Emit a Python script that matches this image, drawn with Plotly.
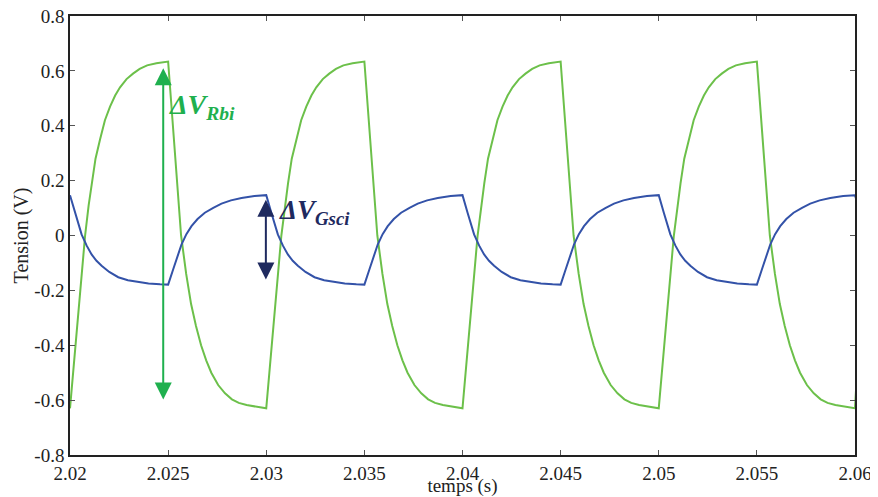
import plotly.graph_objects as go

# ---- data ----
green_t = [
    2.02000, 2.02077, 2.02095, 2.02111, 2.02130, 2.02153, 2.02178, 2.02204, 2.02230, 2.02255, 2.02288, 2.02321, 2.02355, 2.02393, 2.02440,
    2.02500, 2.02566, 2.02592, 2.02617, 2.02642, 2.02668, 2.02694, 2.02720, 2.02755, 2.02790, 2.02825, 2.02860, 2.02900, 2.02950,
    2.03000, 2.03077, 2.03095, 2.03111, 2.03130, 2.03153, 2.03178, 2.03204, 2.03230, 2.03255, 2.03288, 2.03321, 2.03355, 2.03393, 2.03440,
    2.03500, 2.03566, 2.03592, 2.03617, 2.03642, 2.03668, 2.03694, 2.03720, 2.03755, 2.03790, 2.03825, 2.03860, 2.03900, 2.03950,
    2.04000, 2.04077, 2.04095, 2.04111, 2.04130, 2.04153, 2.04178, 2.04204, 2.04230, 2.04255, 2.04288, 2.04321, 2.04355, 2.04393, 2.04440,
    2.04500, 2.04566, 2.04592, 2.04617, 2.04642, 2.04668, 2.04694, 2.04720, 2.04755, 2.04790, 2.04825, 2.04860, 2.04900, 2.04950,
    2.05000, 2.05077, 2.05095, 2.05111, 2.05130, 2.05153, 2.05178, 2.05204, 2.05230, 2.05255, 2.05288, 2.05321, 2.05355, 2.05393, 2.05440,
    2.05500, 2.05566, 2.05592, 2.05617, 2.05642, 2.05668, 2.05694, 2.05720, 2.05755, 2.05790, 2.05825, 2.05860, 2.05900, 2.05950,
    2.06000, 2.06010,
]
green_v = [
    -0.630, 0.000, 0.110, 0.190, 0.280, 0.350, 0.420, 0.470, 0.510, 0.540, 0.570, 0.590, 0.607, 0.620, 0.628,
    0.634, 0.000, -0.140, -0.250, -0.330, -0.400, -0.455, -0.500, -0.545, -0.575, -0.597, -0.610, -0.618, -0.625,
    -0.630, 0.000, 0.110, 0.190, 0.280, 0.350, 0.420, 0.470, 0.510, 0.540, 0.570, 0.590, 0.607, 0.620, 0.628,
    0.634, 0.000, -0.140, -0.250, -0.330, -0.400, -0.455, -0.500, -0.545, -0.575, -0.597, -0.610, -0.618, -0.625,
    -0.630, 0.000, 0.110, 0.190, 0.280, 0.350, 0.420, 0.470, 0.510, 0.540, 0.570, 0.590, 0.607, 0.620, 0.628,
    0.634, 0.000, -0.140, -0.250, -0.330, -0.400, -0.455, -0.500, -0.545, -0.575, -0.597, -0.610, -0.618, -0.625,
    -0.630, 0.000, 0.110, 0.190, 0.280, 0.350, 0.420, 0.470, 0.510, 0.540, 0.570, 0.590, 0.607, 0.620, 0.628,
    0.634, 0.000, -0.140, -0.250, -0.330, -0.400, -0.455, -0.500, -0.545, -0.575, -0.597, -0.610, -0.618, -0.625,
    -0.630, -0.500,
]

blue_t = [
    2.020000, 2.020255, 2.020590, 2.020850, 2.021100, 2.021350, 2.021610, 2.022000, 2.022460, 2.022950, 2.023480, 2.024000, 2.024590,
    2.025000, 2.025255, 2.025680, 2.025930, 2.026190, 2.026500, 2.026870, 2.027300, 2.027720, 2.028200, 2.028740, 2.029400,
    2.030000, 2.030255, 2.030590, 2.030850, 2.031100, 2.031350, 2.031610, 2.032000, 2.032460, 2.032950, 2.033480, 2.034000, 2.034590,
    2.035000, 2.035255, 2.035680, 2.035930, 2.036190, 2.036500, 2.036870, 2.037300, 2.037720, 2.038200, 2.038740, 2.039400,
    2.040000, 2.040255, 2.040590, 2.040850, 2.041100, 2.041350, 2.041610, 2.042000, 2.042460, 2.042950, 2.043480, 2.044000, 2.044590,
    2.045000, 2.045255, 2.045680, 2.045930, 2.046190, 2.046500, 2.046870, 2.047300, 2.047720, 2.048200, 2.048740, 2.049400,
    2.050000, 2.050255, 2.050590, 2.050850, 2.051100, 2.051350, 2.051610, 2.052000, 2.052460, 2.052950, 2.053480, 2.054000, 2.054590,
    2.055000, 2.055255, 2.055680, 2.055930, 2.056190, 2.056500, 2.056870, 2.057300, 2.057720, 2.058200, 2.058740, 2.059400,
    2.060000, 2.060255,
]
blue_v = [
    0.147, 0.084, 0.004, -0.037, -0.069, -0.092, -0.110, -0.133, -0.152, -0.163, -0.170, -0.175, -0.178,
    -0.179, -0.124, -0.033, 0.005, 0.034, 0.060, 0.083, 0.101, 0.116, 0.128, 0.137, 0.144,
    0.147, 0.084, 0.004, -0.037, -0.069, -0.092, -0.110, -0.133, -0.152, -0.163, -0.170, -0.175, -0.178,
    -0.179, -0.124, -0.033, 0.005, 0.034, 0.060, 0.083, 0.101, 0.116, 0.128, 0.137, 0.144,
    0.147, 0.084, 0.004, -0.037, -0.069, -0.092, -0.110, -0.133, -0.152, -0.163, -0.170, -0.175, -0.178,
    -0.179, -0.124, -0.033, 0.005, 0.034, 0.060, 0.083, 0.101, 0.116, 0.128, 0.137, 0.144,
    0.147, 0.084, 0.004, -0.037, -0.069, -0.092, -0.110, -0.133, -0.152, -0.163, -0.170, -0.175, -0.178,
    -0.179, -0.124, -0.033, 0.005, 0.034, 0.060, 0.083, 0.101, 0.116, 0.128, 0.137, 0.144,
    0.147, 0.084,
]

x_ticks = [2.02, 2.025, 2.03, 2.035, 2.04, 2.045, 2.05, 2.055, 2.06]
x_tick_labels = ["2.02", "2.025", "2.03", "2.035", "2.04", "2.045", "2.05", "2.055", "2.06"]
y_ticks = [-0.8, -0.6, -0.4, -0.2, 0, 0.2, 0.4, 0.6, 0.8]
y_tick_labels = ["-0.8", "-0.6", "-0.4", "-0.2", "0", "0.2", "0.4", "0.6", "0.8"]

# annotation arrows: (x, y_top, y_bottom)
rbi_arrow = (2.02475, 0.61, -0.603)
gsci_arrow = (2.02998, 0.13, -0.166)

GREEN = "#6cc04a"
BLUE = "#3352a8"
ARROW_GREEN = "#1fb04e"
NAVY = "#1f2a5f"
FONT = "Liberation Serif"

fig = go.Figure()
fig.add_trace(go.Scatter(x=green_t, y=green_v, mode="lines",
                         line=dict(color=GREEN, width=2), showlegend=False))
fig.add_trace(go.Scatter(x=blue_t, y=blue_v, mode="lines",
                         line=dict(color=BLUE, width=2), showlegend=False))

for (ax_x, ytop, ybot), col in [(rbi_arrow, ARROW_GREEN), (gsci_arrow, NAVY)]:
    fig.add_annotation(x=ax_x, y=ytop, ax=ax_x, ay=ybot, xref="x", yref="y",
                       axref="x", ayref="y", text="", showarrow=True,
                       arrowhead=2, arrowside="end+start", arrowsize=1.7,
                       arrowwidth=2, arrowcolor=col)

fig.add_annotation(x=2.02492, y=0.47, xref="x", yref="y", xanchor="left", yanchor="middle",
                   text="<b><i>ΔV<sub>Rbi</sub></i></b>", showarrow=False,
                   font=dict(family=FONT, size=28, color=ARROW_GREEN))
fig.add_annotation(x=2.03053, y=0.085, xref="x", yref="y", xanchor="left", yanchor="middle",
                   text="<b><i>ΔV<sub>Gsci</sub></i></b>", showarrow=False,
                   font=dict(family=FONT, size=27, color=NAVY))

axis_common = dict(showgrid=False, zeroline=False, showline=True, linecolor="#222",
                   linewidth=1.5, mirror="ticks", ticks="inside", ticklen=5,
                   tickcolor="#555", tickwidth=1, automargin=False,
                   ticklabeloverflow="allow",
                   tickfont=dict(family=FONT, size=19, color="#222"))

fig.update_xaxes(range=[2.02, 2.06], tickvals=x_ticks, ticktext=x_tick_labels,
                 title=dict(text="temps (s)", font=dict(family=FONT, size=19, color="#222"), standoff=5),
                 **axis_common)
fig.update_yaxes(range=[-0.8, 0.8], tickvals=y_ticks, ticktext=y_tick_labels,
                 title=dict(text="Tension (V)", font=dict(family=FONT, size=20, color="#222"), standoff=0),
                 **axis_common)

# the page body adds an 8 px offset, so the figure is sized to fit the 878x497 window
fig.update_layout(width=870, height=489, margin=dict(l=62, r=23, t=8, b=42),
                  plot_bgcolor="white", paper_bgcolor="white")

fig.write_html("out.html")
